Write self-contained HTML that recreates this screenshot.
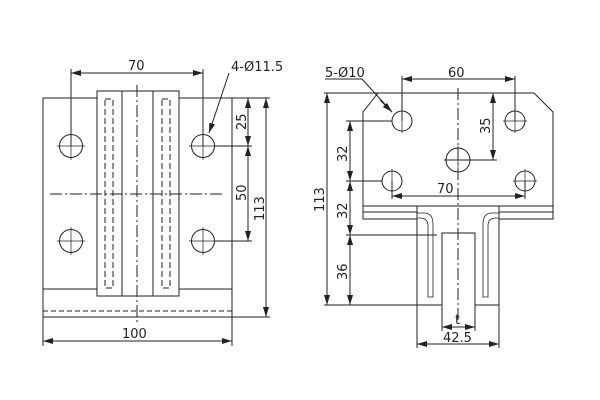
<!DOCTYPE html>
<html><head><meta charset="utf-8"><style>body{margin:0;background:#fff}svg{display:block}text{font-family:"DejaVu Sans","Liberation Sans",sans-serif;font-size:13px;fill:#222}</style></head><body>
<svg width="600" height="400" viewBox="0 0 600 400" xmlns="http://www.w3.org/2000/svg">
<defs><marker id="a" viewBox="0 0 10 6" refX="10" refY="3" markerWidth="10" markerHeight="6" orient="auto-start-reverse"><path d="M0,0L10,3L0,6z" fill="#222"/></marker></defs>
<g stroke="#222" fill="none" stroke-width="1">
<!-- LEFT VIEW -->
<rect x="43" y="98" width="189" height="219"/>
<line x1="43" y1="289" x2="97" y2="289"/><line x1="179" y1="289" x2="232" y2="289"/>
<line x1="43" y1="311" x2="232" y2="311" stroke-dasharray="5,3"/>
<rect x="97" y="91" width="82" height="205" fill="#fff"/>
<line x1="122" y1="91" x2="122" y2="296"/><line x1="153" y1="91" x2="153" y2="296"/>
<rect x="105" y="99" width="8" height="189" stroke-dasharray="6,3"/>
<rect x="162" y="99" width="8" height="189" stroke-dasharray="6,3"/>
<line x1="137" y1="85" x2="137" y2="322" stroke-dasharray="12,3,2,3"/>
<line x1="50" y1="194" x2="222" y2="194" stroke-dasharray="12,3,2,3"/>
<circle cx="71" cy="146" r="11.5"/><circle cx="203" cy="146" r="11.5"/>
<circle cx="71" cy="241" r="11.5"/><circle cx="203" cy="241" r="11.5"/>
<g stroke-width="0.7"><path d="M57,146h28M71,132v28M189,146h28M203,132v28M57,241h28M71,227v28M189,241h28M203,227v28"/></g>
<line x1="71" y1="69" x2="71" y2="146"/><line x1="203" y1="69" x2="203" y2="146"/>
<line x1="71" y1="73" x2="203" y2="73" marker-start="url(#a)" marker-end="url(#a)"/>
<line x1="229" y1="73" x2="209" y2="133" marker-end="url(#a)"/>
<line x1="232" y1="98" x2="270" y2="98"/><line x1="215" y1="146" x2="252" y2="146"/><line x1="215" y1="241" x2="252" y2="241"/><line x1="232" y1="317" x2="270" y2="317"/>
<line x1="248" y1="98" x2="248" y2="146" marker-start="url(#a)" marker-end="url(#a)"/>
<line x1="248" y1="146" x2="248" y2="241" marker-start="url(#a)" marker-end="url(#a)"/>
<line x1="266" y1="98" x2="266" y2="317" marker-start="url(#a)" marker-end="url(#a)"/>
<line x1="43" y1="317" x2="43" y2="346"/><line x1="232" y1="317" x2="232" y2="346"/>
<line x1="43" y1="341" x2="232" y2="341" marker-start="url(#a)" marker-end="url(#a)"/>
<!-- RIGHT VIEW -->
<path d="M363,219V112L378,93H534L553,112V219Z"/>
<line x1="363" y1="206" x2="553" y2="206"/><line x1="363" y1="212" x2="417" y2="212"/><line x1="499" y1="212" x2="553" y2="212"/>
<line x1="417" y1="219" x2="499" y2="219" stroke="#fff" stroke-width="2"/>
<path d="M417,206V305H442V233H475V305H499V206"/>
<line x1="442" y1="233" x2="475" y2="233"/>
<path d="M417,213H424Q433,213 433,224V297H428V226Q428,218 420,218H417" stroke-width="0.8"/>
<path d="M499,213H492Q483,213 483,224V297H488V226Q488,218 496,218H499" stroke-width="0.8"/>
<line x1="458" y1="88" x2="458" y2="322" stroke-dasharray="12,3,2,3"/>
<circle cx="402" cy="121" r="10"/><circle cx="515" cy="121" r="10"/><circle cx="458" cy="160" r="12"/><circle cx="392" cy="181" r="10"/><circle cx="525" cy="181" r="10"/>
<g stroke-width="0.7"><path d="M402,109v24M515,109v24M503,121h24M458,146v28M392,169v24M525,169v24M513,181h24"/></g>
<line x1="402" y1="76" x2="402" y2="121"/><line x1="515" y1="76" x2="515" y2="121"/>
<line x1="402" y1="79" x2="515" y2="79" marker-start="url(#a)" marker-end="url(#a)"/>
<line x1="470" y1="93" x2="497" y2="93"/><line x1="444" y1="160" x2="497" y2="160"/>
<line x1="493" y1="93" x2="493" y2="160" marker-start="url(#a)" marker-end="url(#a)"/>
<line x1="392" y1="181" x2="392" y2="199"/><line x1="525" y1="181" x2="525" y2="199"/>
<line x1="392" y1="196" x2="525" y2="196" marker-start="url(#a)" marker-end="url(#a)"/>
<path d="M325,79H362L392,112" /><line x1="380" y1="100" x2="392" y2="112" marker-end="url(#a)"/>
<line x1="324" y1="93" x2="378" y2="93"/><line x1="324" y1="305" x2="417" y2="305"/>
<line x1="327" y1="93" x2="327" y2="305" marker-start="url(#a)" marker-end="url(#a)"/>
<line x1="346" y1="121" x2="392" y2="121"/><line x1="346" y1="181" x2="382" y2="181"/><line x1="346" y1="235" x2="437" y2="235"/>
<line x1="350" y1="121" x2="350" y2="181" marker-start="url(#a)" marker-end="url(#a)"/>
<line x1="350" y1="181" x2="350" y2="235" marker-start="url(#a)" marker-end="url(#a)"/>
<line x1="350" y1="235" x2="350" y2="305" marker-start="url(#a)" marker-end="url(#a)"/>
<line x1="442" y1="305" x2="442" y2="331"/><line x1="475" y1="305" x2="475" y2="331"/>
<line x1="442" y1="327" x2="475" y2="327" marker-start="url(#a)" marker-end="url(#a)"/>
<line x1="417" y1="305" x2="417" y2="348"/><line x1="499" y1="305" x2="499" y2="348"/>
<line x1="417" y1="344" x2="499" y2="344" marker-start="url(#a)" marker-end="url(#a)"/>
</g>
<text x="128" y="70">70</text>
<text x="231" y="71">4-Ø11.5</text>
<text x="122" y="338">100</text>
<text transform="translate(246,130) rotate(-90)">25</text>
<text transform="translate(246,201) rotate(-90)">50</text>
<text transform="translate(264,221) rotate(-90)">113</text>
<text x="448" y="77">60</text>
<text x="325" y="77">5-Ø10</text>
<text transform="translate(490,134) rotate(-90)">35</text>
<text x="437" y="193">70</text>
<text transform="translate(324,212) rotate(-90)">113</text>
<text transform="translate(347,162) rotate(-90)">32</text>
<text transform="translate(347,219) rotate(-90)">32</text>
<text transform="translate(347,280) rotate(-90)">36</text>
<text x="455" y="324">t</text>
<text x="443" y="342">42.5</text>
</svg>
</body></html>
